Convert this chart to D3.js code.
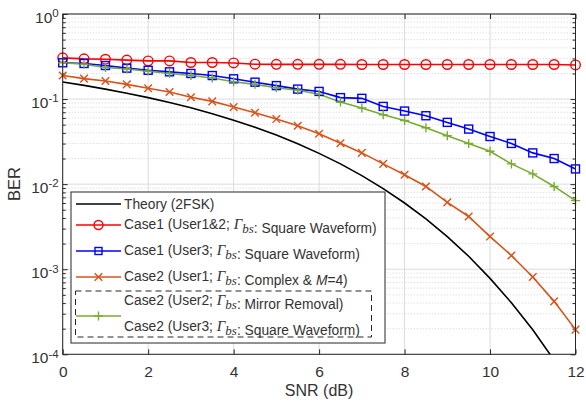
<!DOCTYPE html>
<html>
<head>
<meta charset="utf-8">
<script src="https://cdn.jsdelivr.net/npm/d3@7"></script>
<style>
body{margin:0;background:#fff;}
text{font-family:"Liberation Sans",Arial,sans-serif;}
</style>
</head>
<body>
<div id="chart"></div>
<script>
// data
const snr = [0,0.5,1,1.5,2,2.5,3,3.5,4,4.5,5,5.5,6,6.5,7,7.5,8,8.5,9,9.5,10,10.5,11,11.5,12];
const theory = [0.1587,0.1448,0.1309,0.1173,0.1040,0.0911,0.0789,0.0673,0.0565,0.0466,0.0377,0.0298,0.0230,0.0173,0.0126,0.00887,0.0060,0.0039,0.00242,0.00142,0.00078,0.000404,0.000194,0.0000853,0.0000343];
const case1User12 = [0.305,0.297,0.294,0.287,0.281,0.281,0.269,0.269,0.266,0.257,0.256,0.256,0.256,0.256,0.255,0.255,0.255,0.255,0.255,0.255,0.255,0.255,0.255,0.255,0.252];
const case1User3 = [0.267,0.262,0.248,0.231,0.218,0.209,0.200,0.189,0.173,0.158,0.144,0.131,0.123,0.104,0.102,0.082,0.0723,0.0637,0.0532,0.0444,0.0363,0.0301,0.0233,0.0200,0.0151];
const case2User1 = [0.189,0.174,0.163,0.149,0.134,0.121,0.105,0.094,0.0805,0.0691,0.0582,0.0485,0.0391,0.0303,0.0233,0.0173,0.0129,0.0094,0.0061,0.00417,0.00242,0.00145,0.00081,0.000419,0.000195];
const case2User3 = [0.267,0.257,0.235,0.226,0.212,0.200,0.189,0.177,0.160,0.149,0.136,0.127,0.114,0.0923,0.0785,0.0655,0.0561,0.0461,0.0370,0.0301,0.0244,0.0173,0.0132,0.0094,0.0064];
const xTicks = [0,2,4,6,8,10,12];
const yDecades = [0,-1,-2,-3,-4];

const width = 586, height = 404;
const margin = {t:14,r:10.5,b:49.7,l:62.7};
const w = width - margin.l - margin.r;
const h = height - margin.t - margin.b;

const svg = d3.select('#chart').append('svg')
	.attr('width',width)
	.attr('height',height);
const plot = svg.append('g')
	.attr('transform',`translate(${margin.l},${margin.t})`);

const scaleX = d3.scaleLinear().domain([0,12]).range([0,w]);
const scaleY = d3.scaleLog().domain([1e-4,1]).range([h,0]);

//grid: minor dotted, then major solid
const minor = [];
yDecades.slice(1).forEach(e => { for(let k=2;k<10;k++) minor.push(k*Math.pow(10,e)); });
plot.selectAll('.minor-grid').data(minor).enter().append('line')
	.attr('x1',0).attr('x2',w)
	.attr('y1',d => scaleY(d)).attr('y2',d => scaleY(d))
	.style('stroke','#c8c8c8').style('stroke-dasharray','1,2').style('stroke-width',0.8);
plot.selectAll('.grid-y').data(yDecades).enter().append('line')
	.attr('x1',0).attr('x2',w)
	.attr('y1',d => scaleY(Math.pow(10,d))).attr('y2',d => scaleY(Math.pow(10,d)))
	.style('stroke','#dcdcdc');
plot.selectAll('.grid-x').data(xTicks).enter().append('line')
	.attr('x1',d => scaleX(d)).attr('x2',d => scaleX(d))
	.attr('y1',0).attr('y2',h)
	.style('stroke','#dcdcdc');

//axes
const axisX = d3.axisBottom(scaleX).tickValues(xTicks).tickSize(-5).tickPadding(12).tickFormat(d3.format('d'));
const axisXTop = d3.axisTop(scaleX).tickValues(xTicks).tickSize(-5).tickFormat('');
const axisY = d3.axisLeft(scaleY).tickValues(yDecades.map(e => Math.pow(10,e))).tickSize(-5).tickPadding(4);
const axisYRight = d3.axisRight(scaleY).tickValues(yDecades.map(e => Math.pow(10,e))).tickSize(-5).tickFormat('');
const minorY = d3.axisLeft(scaleY).tickValues(minor).tickSize(-3).tickFormat('');
const minorYRight = d3.axisRight(scaleY).tickValues(minor).tickSize(-3).tickFormat('');

const gx = plot.append('g').attr('transform',`translate(0,${h})`).call(axisX);
plot.append('g').call(axisXTop);
const gy = plot.append('g').call(axisY);
plot.append('g').attr('transform',`translate(${w},0)`).call(axisYRight);
plot.append('g').call(minorY);
plot.append('g').attr('transform',`translate(${w},0)`).call(minorYRight);
plot.selectAll('.domain').remove();
plot.selectAll('.tick line').style('stroke','#262626');

gx.selectAll('text').style('font-size','15.5px').style('fill','#333');
gy.selectAll('.tick text').each(function(d){
	const t = d3.select(this).text(null).style('font-size','15.5px').style('fill','#333').attr('dy','0.55em');
	t.append('tspan').text('10');
	t.append('tspan').attr('dy','-0.5em').style('font-size','11.5px').text(String(Math.round(Math.log10(d))));
});

//lines
const clip = svg.append('clipPath').attr('id','clip').append('rect').attr('width',w).attr('height',h);
const series = [
	{name:'theory', values:theory, color:'#000000', marker:'none'},
	{name:'c1u12', values:case1User12, color:'#ff0000', marker:'circle'},
	{name:'c1u3', values:case1User3, color:'#0000ff', marker:'square'},
	{name:'c2u1', values:case2User1, color:'#d95319', marker:'x'},
	{name:'c2u3', values:case2User3, color:'#77ac30', marker:'plus'}
];
const line = d3.line().x((d,i) => scaleX(snr[i])).y(d => scaleY(d));
const marks = plot.append('g').attr('clip-path','url(#clip)');

function drawMarker(g, type, color){
	if(type==='circle') g.append('circle').attr('r',4.8).style('fill','none').style('stroke',color).style('stroke-width',1.4);
	if(type==='square') g.append('rect').attr('x',-4).attr('y',-4).attr('width',8).attr('height',8).style('fill','none').style('stroke',color).style('stroke-width',1.4);
	if(type==='x') g.append('path').attr('d','M-3.8,-3.8L3.8,3.8M-3.8,3.8L3.8,-3.8').style('stroke',color).style('stroke-width',1.4);
	if(type==='plus') g.append('path').attr('d','M-4.5,0H4.5M0,-4.5V4.5').style('stroke',color).style('stroke-width',1.4);
}

series.forEach(s => {
	marks.append('path').datum(s.values).attr('d',line)
		.style('fill','none').style('stroke',s.color).style('stroke-width',1.6);
	if(s.marker!=='none'){
		s.values.forEach((v,i) => {
			const g = plot.append('g').attr('transform',`translate(${scaleX(snr[i])},${scaleY(v)})`);
			drawMarker(g, s.marker, s.color);
		});
	}
});

//frame
plot.append('rect').attr('width',w).attr('height',h).style('fill','none').style('stroke','#262626').style('stroke-width',1);

//axis titles
svg.append('text').attr('x',margin.l + w/2).attr('y',396).attr('text-anchor','middle')
	.style('font-size','16px').style('fill','#333').text('SNR (dB)');
svg.append('text').attr('transform',`translate(19.5,${margin.t + h/2}) rotate(-90)`).attr('text-anchor','middle')
	.style('font-size','16.5px').style('fill','#333').text('BER');

//legend
const legend = svg.append('g');
legend.append('rect').attr('x',71).attr('y',192).attr('width',314).attr('height',151)
	.style('fill','#fff').style('stroke','#262626');
legend.append('rect').attr('x',75.5).attr('y',291).attr('width',296).attr('height',46)
	.style('fill','none').style('stroke','#262626').style('stroke-dasharray','6,4');

const entries = [
	{color:'#000000', marker:'none', y:204, texts:[{y:204, parts:['Theory (2FSK)']}]},
	{color:'#ff0000', marker:'circle', y:225, texts:[{y:224, parts:['Case1 (User1&2; ','G',': Square Waveform)']}]},
	{color:'#0000ff', marker:'square', y:251, texts:[{y:250, parts:['Case1 (User3; ','G',': Square Waveform)']}]},
	{color:'#d95319', marker:'x', y:277, texts:[{y:276, parts:['Case2 (User1; ','G',': Complex & ','M','=4)']}]},
	{color:'#77ac30', marker:'plus', y:316, texts:[{y:300, parts:['Case2 (User2; ','G',': Mirror Removal)']},{y:326, parts:['Case2 (User3; ','G',': Square Waveform)']}]}
];
entries.forEach(e => {
	legend.append('line').attr('x1',76).attr('x2',121).attr('y1',e.y).attr('y2',e.y)
		.style('stroke',e.color).style('stroke-width',1.6);
	const mg = legend.append('g').attr('transform',`translate(98.5,${e.y})`);
	if(e.marker==='circle') mg.append('circle').attr('r',4.5).style('fill','none').style('stroke',e.color).style('stroke-width',1.4);
	else if(e.marker==='square') mg.append('rect').attr('x',-3.5).attr('y',-3.5).attr('width',7).attr('height',7).style('fill','none').style('stroke',e.color).style('stroke-width',1.4);
	else if(e.marker!=='none') drawMarker(mg, e.marker, e.color);
	e.texts.forEach(tl => {
		const t = legend.append('text').attr('x',124).attr('y',tl.y).attr('dy','0.35em')
			.style('font-size','13.8px').style('fill','#333');
		tl.parts.forEach(p => {
			if(p==='G'){
				t.append('tspan').style('font-family','"Liberation Serif",serif').style('font-style','italic').style('font-size','15px').text('\u0393');
				t.append('tspan').attr('dy','0.35em').style('font-family','"Liberation Serif",serif').style('font-style','italic').style('font-size','13px').text('bs');
				t.append('tspan').attr('dy','-0.35em').text('');
			} else if(p==='M'){
				t.append('tspan').style('font-style','italic').text('M');
			} else {
				t.append('tspan').text(p);
			}
		});
	});
});
</script>
</body>
</html>
